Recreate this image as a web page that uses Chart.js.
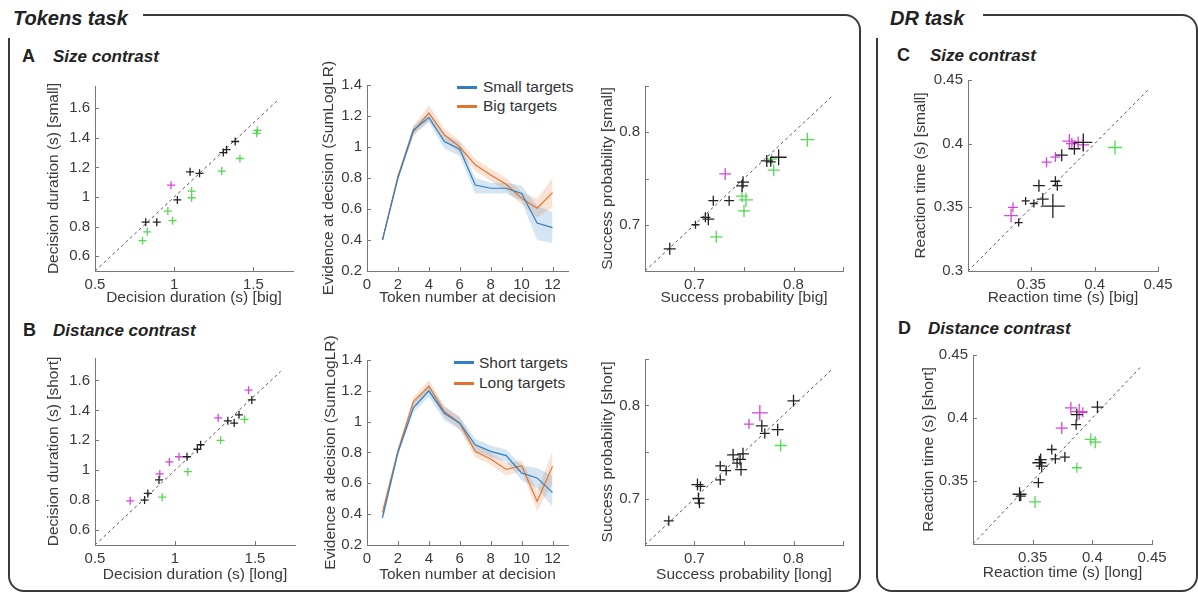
<!DOCTYPE html>
<html>
<head>
<meta charset="utf-8">
<script src="https://cdn.jsdelivr.net/npm/chart.js@4.4.1/dist/chart.umd.min.js"></script>
<style>
  html, body { margin: 0; padding: 0; background: #fff; overflow: hidden; }
  #page { position: relative; width: 1198px; height: 592px; font-family: "Liberation Sans", Arial, sans-serif; color: #222; }
  .frame { position: absolute; border: 2px solid #3a3a3a; border-radius: 16px; box-sizing: border-box; }
  .cover { position: absolute; background: #fff; }
  .task { position: absolute; font-weight: bold; font-style: italic; font-size: 20px; line-height: 1.2; white-space: nowrap; }
  .plabel { position: absolute; font-weight: bold; font-size: 18px; line-height: 1.2; }
  .ptitle { position: absolute; font-weight: bold; font-style: italic; font-size: 17px; line-height: 1.2; white-space: nowrap; }
  .lgtext { position: absolute; font-size: 15.5px; line-height: 1.2; color: #333; white-space: nowrap; }
  .lgline { position: absolute; width: 20px; height: 3px; }
  canvas { position: absolute; }
</style>
</head>
<body>
<div id="page">
  <!-- task frames -->
  <div class="frame" style="left:8px; top:14px; width:853px; height:578px;"></div>
  <div class="cover" style="left:0px; top:0px; width:143px; height:38px;"></div>
  <div class="task" style="left:13px; top:6px;">Tokens task</div>

  <div class="frame" style="left:876px; top:14px; width:322px; height:578px;"></div>
  <div class="cover" style="left:870px; top:0px; width:113px; height:38px;"></div>
  <div class="task" style="left:890px; top:6px;">DR task</div>

  <!-- panel headings -->
  <div class="plabel" style="left:22px; top:46px;">A</div>
  <div class="ptitle" style="left:53px; top:47px;">Size contrast</div>
  <div class="plabel" style="left:23px; top:320px;">B</div>
  <div class="ptitle" style="left:53px; top:321px;">Distance contrast</div>
  <div class="plabel" style="left:897px; top:45px;">C</div>
  <div class="ptitle" style="left:930px; top:46px;">Size contrast</div>
  <div class="plabel" style="left:898px; top:318px;">D</div>
  <div class="ptitle" style="left:928px; top:319px;">Distance contrast</div>

  <!-- legends of the evidence panels -->
  <div class="lgline" style="left:457px; top:86px; background:#2f7fc1;"></div>
  <div class="lgtext" style="left:483px; top:78px;">Small targets</div>
  <div class="lgline" style="left:457px; top:105px; background:#e0742f;"></div>
  <div class="lgtext" style="left:483px; top:97px;">Big targets</div>
  <div class="lgline" style="left:454px; top:361px; background:#2f7fc1;"></div>
  <div class="lgtext" style="left:479px; top:354px;">Short targets</div>
  <div class="lgline" style="left:454px; top:382px; background:#e0742f;"></div>
  <div class="lgtext" style="left:479px; top:374px;">Long targets</div>
</div>

<script>
  var FONT = '"Liberation Sans", Arial, sans-serif';
  var AXIS = '#777';
  var TXT = '#3a3a3a';
  var BLACK = '#222';
  var MAGENTA = '#d646d6';
  var GREEN = '#55d855';
  var BLUE = '#2f7fc1';
  var ORANGE = '#e0742f';
  var PAD = 24;
  var TITLE_SIZE = 15.5;

  // ---- Decision duration (A, B) ----
  var durTicksX = [0.5, 1, 1.5];
  var durLabelsX = ['0.5', '1', '1.5'];
  var durTicksY = [0.6, 0.8, 1, 1.2, 1.4, 1.6];
  var durLabelsY = ['0.6', '0.8', '1', '1.2', '1.4', '1.6'];
  var durDiag = [0.5, 1.66];

  var durSizeBlack = [[0.82,0.83],[0.89,0.83],[1.02,0.98],[1.10,1.17],[1.16,1.16],[1.31,1.30],[1.33,1.32],[1.385,1.375]];
  var durSizeMagenta = [[0.98,1.08]];
  var durSizeGreen = [[0.80,0.705],[0.83,0.765],[0.96,0.905],[0.99,0.84],[1.11,1.04],[1.11,0.995],[1.30,1.175],[1.415,1.26],[1.52,1.43],[1.525,1.45]];

  var durDistBlack = [[0.81,0.80],[0.83,0.845],[0.90,0.935],[1.075,1.09],[1.14,1.14],[1.16,1.17],[1.33,1.33],[1.37,1.315],[1.40,1.37],[1.48,1.47]];
  var durDistMagenta = [[0.72,0.795],[0.905,0.975],[0.965,1.055],[1.025,1.09],[1.27,1.35],[1.46,1.535]];
  var durDistGreen = [[0.92,0.82],[1.08,0.99],[1.285,1.20],[1.435,1.34]];

  // ---- Evidence at decision ----
  var tokenNumbers = [1, 2, 3, 4, 5, 6, 7, 8, 9, 10, 11, 12];
  var tokenTicks = [0, 2, 4, 6, 8, 10, 12];
  var tokenLabels = ['0', '2', '4', '6', '8', '10', '12'];
  var evidenceTicks = [0.2, 0.4, 0.6, 0.8, 1, 1.2, 1.4];
  var evidenceLabels = ['0.2', '0.4', '0.6', '0.8', '1', '1.2', '1.4'];

  var smallMean  = [0.40, 0.80, 1.11, 1.19, 1.035, 0.986, 0.755, 0.734, 0.734, 0.70, 0.51, 0.48];
  var smallLow   = [0.39, 0.78, 1.08, 1.16, 0.99, 0.94, 0.70, 0.70, 0.70, 0.65, 0.40, 0.38];
  var smallHigh  = [0.41, 0.82, 1.14, 1.22, 1.08, 1.03, 0.80, 0.77, 0.77, 0.75, 0.62, 0.58];
  var bigMean    = [0.40, 0.81, 1.10, 1.22, 1.08, 1.00, 0.885, 0.82, 0.76, 0.67, 0.605, 0.706];
  var bigLow     = [0.39, 0.79, 1.07, 1.17, 1.04, 0.96, 0.845, 0.78, 0.72, 0.63, 0.545, 0.61];
  var bigHigh    = [0.41, 0.83, 1.13, 1.27, 1.12, 1.04, 0.925, 0.86, 0.80, 0.71, 0.665, 0.80];

  var shortMean  = [0.376, 0.80, 1.09, 1.20, 1.055, 0.99, 0.85, 0.807, 0.78, 0.667, 0.635, 0.54];
  var shortLow   = [0.35, 0.78, 1.06, 1.16, 1.01, 0.95, 0.81, 0.77, 0.74, 0.62, 0.57, 0.45];
  var shortHigh  = [0.40, 0.82, 1.12, 1.24, 1.10, 1.03, 0.89, 0.845, 0.82, 0.715, 0.70, 0.65];
  var longMean   = [0.41, 0.81, 1.13, 1.23, 1.066, 0.99, 0.807, 0.758, 0.69, 0.715, 0.484, 0.71];
  var longLow    = [0.38, 0.79, 1.10, 1.19, 1.03, 0.95, 0.77, 0.72, 0.65, 0.68, 0.42, 0.60];
  var longHigh   = [0.44, 0.83, 1.16, 1.27, 1.10, 1.03, 0.845, 0.80, 0.73, 0.75, 0.55, 0.81];

  // ---- Success probability ----
  var probTicks = [0.65, 0.7, 0.75, 0.8, 0.85];
  var probLabels = ['', '0.7', '', '0.8', ''];
  var probDiag = [0.65, 0.84];

  var probSizeBlack = [[0.675,0.674],[0.701,0.700],[0.711,0.708],[0.714,0.706],[0.719,0.726],[0.735,0.726],[0.749,0.746],[0.748,0.742],[0.773,0.769],[0.777,0.768],[0.785,0.773]];
  var probSizeMagenta = [[0.731,0.755]];
  var probSizeGreen = [[0.722,0.687],[0.748,0.731],[0.752,0.727],[0.750,0.715],[0.780,0.759],[0.778,0.771],[0.814,0.792]];

  var probDistBlack = [[0.674,0.676],[0.703,0.715],[0.706,0.713],[0.704,0.700],[0.705,0.695],[0.726,0.720],[0.726,0.735],[0.732,0.730],[0.739,0.747],[0.743,0.738],[0.746,0.742],[0.747,0.731],[0.749,0.748],[0.768,0.778],[0.771,0.770],[0.784,0.774],[0.800,0.805]];
  var probDistMagenta = [[0.755,0.780],[0.766,0.792]];
  var probDistGreen = [[0.787,0.757]];

  // ---- Reaction time (C, D) ----
  var rtTicks = [0.3, 0.35, 0.4, 0.45];
  var rtLabelsAll = ['0.3', '0.35', '0.4', '0.45'];
  var rtLabelsNoMin = ['', '0.35', '0.4', '0.45'];
  var rtSizeDiag = [0.3, 0.443];
  var rtDistDiag = [0.3, 0.441];

  var rtSizeBlack = [[0.340,0.338],[0.3455,0.355],[0.352,0.353],[0.356,0.367],[0.359,0.3565],[0.367,0.351],[0.369,0.3705],[0.3705,0.367],[0.374,0.391],[0.384,0.396],[0.391,0.401]];
  var rtSizeMagenta = [[0.3355,0.350],[0.334,0.3435],[0.362,0.3855],[0.369,0.3895],[0.380,0.402],[0.382,0.400],[0.387,0.401],[0.391,0.399]];
  var rtSizeGreen = [[0.416,0.397]];

  var rtDistBlack = [[0.339,0.3395],[0.340,0.338],[0.3548,0.3487],[0.3556,0.3645],[0.3567,0.367],[0.3576,0.3618],[0.366,0.375],[0.369,0.3676],[0.377,0.369],[0.3864,0.3947],[0.387,0.4026],[0.4043,0.4087]];
  var rtDistMagenta = [[0.3744,0.392],[0.382,0.408],[0.389,0.405],[0.392,0.4045]];
  var rtDistGreen = [[0.352,0.3334],[0.387,0.3605],[0.3987,0.383],[0.4024,0.3808]];

  // marker half-sizes (px) for the crosses
  var probSizeBlackR = [6,4,5,6,5,5,6,6,6,5,8];
  var probSizeMagentaR = [6];
  var probSizeGreenR = [6,6,7,6,6,5,7];
  var probDistBlackR = [5,6,5,6,5,5,5,5,6,5,6,6,6,6,5,6,6];
  var probDistMagentaR = [5,8];
  var probDistGreenR = [6];
  var rtSizeBlackR = [4,4,4,6,6,12,5,5,6,6,9];
  var rtSizeMagentaR = [5,7,5,5,7,6,6,6];
  var rtSizeGreenR = [7];
  var rtDistBlackR = [7,5,5,7,6,6,5,5,5,5,6,6];
  var rtDistMagentaR = [6,6,8,5];
  var rtDistGreenR = [6,5,6,6];

  // MATLAB style ticks pointing into the axes
  var inwardTicks = {
    id: 'inwardTicks',
    afterDraw: function(chart) {
      var ctx = chart.ctx, area = chart.chartArea;
      ctx.save();
      ctx.strokeStyle = AXIS;
      ctx.lineWidth = 1;
      ['x', 'y'].forEach(function(id) {
        var s = chart.scales[id];
        s.ticks.forEach(function(t) {
          var p = Math.round(s.getPixelForValue(t.value)) + 0.5;
          ctx.beginPath();
          if (id === 'x') { ctx.moveTo(p, area.bottom); ctx.lineTo(p, area.bottom - 4); }
          else { ctx.moveTo(area.left, p); ctx.lineTo(area.left + 4, p); }
          ctx.stroke();
        });
      });
      ctx.restore();
    }
  };

  // area = [left, top, right, bottom] of the plot box on the page
  function addCanvas(area, yTitleX, xTitleY) {
    var half = Math.round(TITLE_SIZE * 0.6);
    var left = yTitleX - half, top = area[1] - PAD, right = area[2] + PAD, bottom = xTitleY + half;
    var c = document.createElement('canvas');
    c.width = right - left;
    c.height = bottom - top;
    c.style.left = left + 'px';
    c.style.top = top + 'px';
    document.getElementById('page').appendChild(c);
    return { ctx: c.getContext('2d'), yw: area[0] - left, xh: bottom - area[3] };
  }

  function axis(min, max, ticks, labels, title, fitKey, fitSize) {
    return {
      type: 'linear', min: min, max: max,
      afterBuildTicks: function(s) { s.ticks = ticks.map(function(v) { return { value: v }; }); },
      afterFit: function(s) { s[fitKey] = fitSize; },
      grid: { display: false, drawTicks: false },
      border: { display: true, color: AXIS, width: 1 },
      ticks: {
        color: TXT, padding: 5, autoSkip: false, maxRotation: 0,
        font: { size: 15, family: FONT },
        callback: function(v, i) { return labels[i]; }
      },
      title: { display: true, text: title, color: TXT, padding: 0, font: { size: TITLE_SIZE, family: FONT, lineHeight: 1.2 } }
    };
  }

  function toXY(pairs) {
    return pairs.map(function(p) { return { x: p[0], y: p[1] }; });
  }

  function crosses(pairs, color, radius) {
    return {
      data: toXY(pairs), pointStyle: 'cross', borderColor: color, backgroundColor: color,
      pointRadius: radius, pointBorderWidth: 1.3, pointHoverRadius: radius, showLine: false, clip: false
    };
  }

  function diagLine(d) {
    return {
      data: [{ x: d[0], y: d[0] }, { x: d[1], y: d[1] }], showLine: true, pointRadius: 0,
      borderColor: '#555', borderWidth: 1, borderDash: [3, 3]
    };
  }

  function scatterChart(p) {
    var c = addCanvas(p.area, p.yTitleX, p.xTitleY);
    var sets = [];
    p.groups.forEach(function(g) { sets.push(crosses(g[0], g[1], g[2])); });
    sets.push(diagLine(p.diag));
    return new Chart(c.ctx, {
      type: 'scatter',
      data: { datasets: sets },
      options: {
        responsive: false, animation: false, events: [],
        layout: { padding: { top: PAD, right: PAD, left: 0, bottom: 0 } },
        plugins: { legend: { display: false }, tooltip: { enabled: false } },
        scales: {
          x: axis(p.xr[0], p.xr[1], p.xt, p.xl, p.xTitle, 'height', c.xh),
          y: axis(p.yr[0], p.yr[1], p.yt, p.yl, p.yTitle, 'width', c.yw)
        }
      },
      plugins: [inwardTicks]
    });
  }

  function series(values) {
    return values.map(function(v, i) { return { x: tokenNumbers[i], y: v }; });
  }

  function evidenceChart(p) {
    var c = addCanvas(p.area, p.yTitleX, p.xTitleY);
    var line = function(vals, col) {
      return { data: series(vals), borderColor: col, borderWidth: 1.2, pointRadius: 0, tension: 0, fill: false };
    };
    var band = function(vals, col, target) {
      return { data: series(vals), borderColor: 'rgba(0,0,0,0)', borderWidth: 0, pointRadius: 0, tension: 0,
               backgroundColor: col, fill: target };
    };
    return new Chart(c.ctx, {
      type: 'line',
      data: {
        datasets: [
          line(p.a[0], BLUE),                                   // 0
          line(p.b[0], ORANGE),                                 // 1
          band(p.a[1], 'rgba(0,0,0,0)', false),                 // 2
          band(p.a[2], 'rgba(47,127,193,0.2)', 2),              // 3
          band(p.b[1], 'rgba(0,0,0,0)', false),                 // 4
          band(p.b[2], 'rgba(224,116,47,0.2)', 4)               // 5
        ]
      },
      options: {
        responsive: false, animation: false, events: [],
        layout: { padding: { top: PAD, right: PAD, left: 0, bottom: 0 } },
        plugins: { legend: { display: false }, tooltip: { enabled: false } },
        scales: {
          x: axis(0, 13, tokenTicks, tokenLabels, 'Token number at decision', 'height', c.xh),
          y: axis(0.2, 1.4, evidenceTicks, evidenceLabels, 'Evidence at decision (SumLogLR)', 'width', c.yw)
        }
      },
      plugins: [inwardTicks]
    });
  }

  document.addEventListener('DOMContentLoaded', function() {
    // A: size contrast, decision duration
    scatterChart({
      area: [95, 86, 293, 271], yTitleX: 53, xTitleY: 298,
      xr: [0.5, 1.75], yr: [0.5, 1.75], xt: durTicksX, xl: durLabelsX, yt: durTicksY, yl: durLabelsY,
      xTitle: 'Decision duration (s) [big]', yTitle: 'Decision duration (s) [small]', diag: durDiag,
      groups: [[durSizeBlack, BLACK, 4], [durSizeMagenta, MAGENTA, 4], [durSizeGreen, GREEN, 4]]
    });
    // B: distance contrast, decision duration
    scatterChart({
      area: [95, 358, 295, 545], yTitleX: 53, xTitleY: 575,
      xr: [0.5, 1.75], yr: [0.5, 1.75], xt: durTicksX, xl: durLabelsX, yt: durTicksY, yl: durLabelsY,
      xTitle: 'Decision duration (s) [long]', yTitle: 'Decision duration (s) [short]', diag: durDiag,
      groups: [[durDistBlack, BLACK, 4], [durDistMagenta, MAGENTA, 4], [durDistGreen, GREEN, 4]]
    });

    // evidence at decision
    evidenceChart({ area: [367, 85, 568, 271], yTitleX: 328, xTitleY: 298,
      a: [smallMean, smallLow, smallHigh], b: [bigMean, bigLow, bigHigh] });
    evidenceChart({ area: [367, 360, 568, 545], yTitleX: 330, xTitleY: 575,
      a: [shortMean, shortLow, shortHigh], b: [longMean, longLow, longHigh] });

    // success probability
    scatterChart({
      area: [645, 86, 843, 271], yTitleX: 607, xTitleY: 298,
      xr: [0.65, 0.85], yr: [0.65, 0.85], xt: probTicks, xl: probLabels, yt: probTicks, yl: probLabels,
      xTitle: 'Success probability [big]', yTitle: 'Success probability [small]', diag: probDiag,
      groups: [[probSizeBlack, BLACK, probSizeBlackR], [probSizeMagenta, MAGENTA, probSizeMagentaR], [probSizeGreen, GREEN, probSizeGreenR]]
    });
    scatterChart({
      area: [645, 359, 843, 545], yTitleX: 607, xTitleY: 575,
      xr: [0.65, 0.85], yr: [0.65, 0.85], xt: probTicks, xl: probLabels, yt: probTicks, yl: probLabels,
      xTitle: 'Success probability [long]', yTitle: 'Success probability [short]', diag: probDiag,
      groups: [[probDistBlack, BLACK, probDistBlackR], [probDistMagenta, MAGENTA, probDistMagentaR], [probDistGreen, GREEN, probDistGreenR]]
    });

    // C, D: reaction time
    scatterChart({
      area: [968, 80, 1158, 271], yTitleX: 920, xTitleY: 298,
      xr: [0.3, 0.45], yr: [0.3, 0.45], xt: rtTicks, xl: rtLabelsNoMin, yt: rtTicks, yl: rtLabelsAll,
      xTitle: 'Reaction time (s) [big]', yTitle: 'Reaction time (s) [small]', diag: rtSizeDiag,
      groups: [[rtSizeBlack, BLACK, rtSizeBlackR], [rtSizeMagenta, MAGENTA, rtSizeMagentaR], [rtSizeGreen, GREEN, rtSizeGreenR]]
    });
    scatterChart({
      area: [973, 355, 1152, 544], yTitleX: 928, xTitleY: 573,
      xr: [0.3, 0.45], yr: [0.3, 0.45], xt: rtTicks, xl: rtLabelsNoMin, yt: rtTicks, yl: rtLabelsNoMin,
      xTitle: 'Reaction time (s) [long]', yTitle: 'Reaction time (s) [short]', diag: rtDistDiag,
      groups: [[rtDistBlack, BLACK, rtDistBlackR], [rtDistMagenta, MAGENTA, rtDistMagentaR], [rtDistGreen, GREEN, rtDistGreenR]]
    });
  });
</script>
</body>
</html>
